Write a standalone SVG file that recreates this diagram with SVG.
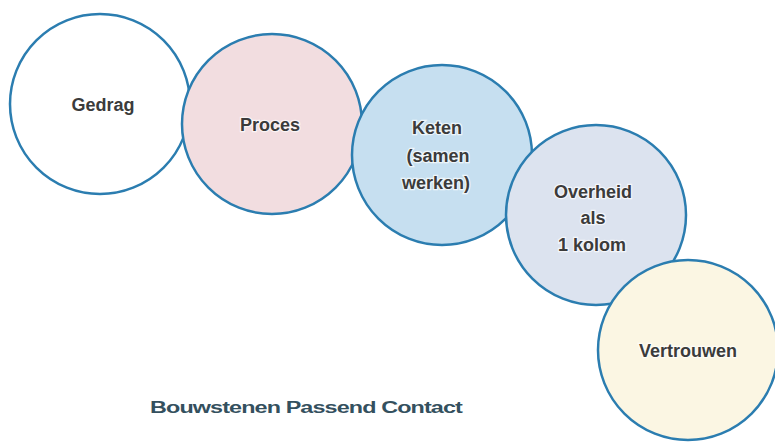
<svg xmlns="http://www.w3.org/2000/svg" width="775" height="442" viewBox="0 0 775 442">
<style>
.c{stroke:#2b7db0;stroke-width:2.5}
.t{font-family:"Liberation Sans",Arial,sans-serif;font-weight:bold;font-size:18px;fill:#3b3b3b;text-anchor:middle;stroke:#ffffff;stroke-width:2.5;stroke-opacity:0.7;paint-order:stroke}
.cap{font-family:"Liberation Sans",Arial,sans-serif;font-weight:bold;font-size:16px;fill:#34505e;letter-spacing:-0.6px}
</style>
<rect width="775" height="442" fill="#ffffff"/>
<g id="gedrag">
<circle class="c" cx="100" cy="104" r="90" fill="#ffffff"/>
<text class="t" x="103" y="111">Gedrag</text>
</g>
<g id="proces">
<circle class="c" cx="272" cy="124" r="90" fill="#f2dde0"/>
<text class="t" x="270" y="131">Proces</text>
</g>
<g id="keten">
<circle class="c" cx="442" cy="155" r="90" fill="#c6dff0"/>
<text class="t" x="437" y="134">Keten</text>
<text class="t" x="438" y="162">(samen</text>
<text class="t" x="436" y="189">werken)</text>
</g>
<g id="overheid">
<circle class="c" cx="596" cy="215" r="90" fill="#dce3ef"/>
<text class="t" x="593" y="198">Overheid</text>
<text class="t" x="593" y="224">als</text>
<text class="t" x="592" y="251">1 kolom</text>
</g>
<g id="vertrouwen">
<circle class="c" cx="688" cy="350" r="90" fill="#fbf6e3"/>
<text class="t" x="688" y="357">Vertrouwen</text>
</g>
<g id="connectors"></g>
<text class="cap" x="150" y="413" textLength="312" lengthAdjust="spacingAndGlyphs">Bouwstenen Passend Contact</text>
</svg>
